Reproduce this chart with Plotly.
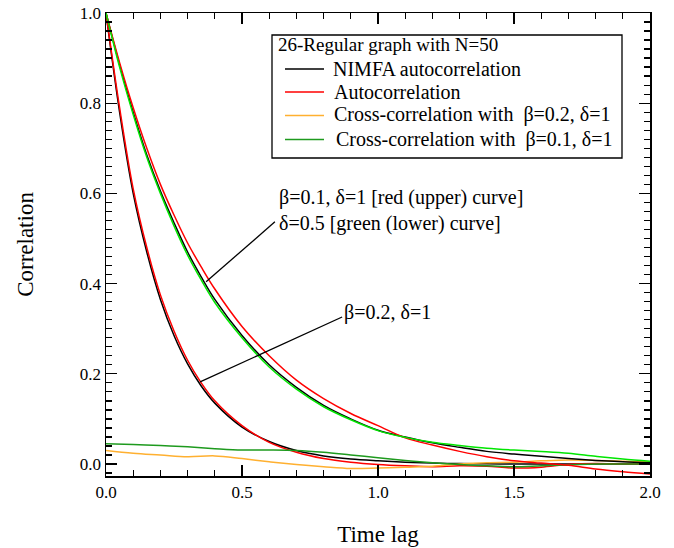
import plotly.graph_objects as go

# time grids
t_auto = [0, 0.05, 0.1, 0.15, 0.2, 0.25, 0.3, 0.35, 0.4, 0.5, 0.6, 0.7, 0.8, 0.9, 1.0,
          1.1, 1.2, 1.3, 1.4, 1.5, 1.6, 1.7, 1.8, 1.9, 2.0]
t_cross = [0, 0.1, 0.2, 0.3, 0.4, 0.5, 0.6, 0.7, 0.8, 0.9, 1.0,
           1.1, 1.2, 1.3, 1.4, 1.5, 1.6, 1.7, 1.8, 1.9, 2.0]

# beta=0.2, delta=1
nimfa_fast = [1.0, 0.78, 0.60, 0.47, 0.365, 0.285, 0.222, 0.173, 0.135, 0.082, 0.05, 0.030,
              0.018, 0.011, 0.007, 0.004, 0.002, 0.001, 0.0005, 0.0, 0.0, 0.0, 0.0, 0.0, 0.0]
auto_fast = [1.0, 0.79, 0.61, 0.48, 0.375, 0.295, 0.23, 0.18, 0.14, 0.085, 0.048, 0.026,
             0.012, 0.004, -0.001, -0.004, -0.006, -0.004, -0.005, -0.009, -0.007, -0.001,
             0.001, 0.0, 0.0]
# beta=0.1, delta=1 (red) / delta=0.5 (green)
nimfa_slow = [1.0, 0.885, 0.78, 0.685, 0.605, 0.535, 0.47, 0.415, 0.365, 0.285, 0.22, 0.17,
              0.13, 0.10, 0.075, 0.06, 0.047, 0.037, 0.028, 0.022, 0.017, 0.012, 0.008,
              0.005, 0.003]
auto_slow_green = [1.0, 0.88, 0.775, 0.68, 0.60, 0.528, 0.463, 0.408, 0.358, 0.28, 0.215,
                   0.166, 0.127, 0.098, 0.074, 0.059, 0.048, 0.041, 0.035, 0.031, 0.028,
                   0.024, 0.017, 0.011, 0.006]
auto_slow_red = [1.0, 0.89, 0.79, 0.70, 0.62, 0.552, 0.49, 0.437, 0.388, 0.305, 0.24, 0.186,
                 0.145, 0.112, 0.085, 0.058, 0.042, 0.028, 0.016, 0.007, 0.002, -0.003,
                 -0.011, -0.017, -0.022]
cross_b01 = [0.045, 0.043, 0.041, 0.038, 0.034, 0.031, 0.031, 0.030, 0.026, 0.020, 0.014,
             0.008, 0.003, -0.001, -0.004, -0.006, -0.004, -0.002, 0.0, 0.0, 0.0]
cross_b02 = [0.030, 0.024, 0.020, 0.016, 0.018, 0.012, 0.005, -0.001, -0.006, -0.010, -0.009,
             -0.007, -0.005, 0.0, 0.003, 0.004, 0.007, 0.009, 0.008, 0.006, 0.005]

legend_title = "26-Regular graph with N=50"
names = ["NIMFA autocorrelation", "Autocorrelation",
         "Cross-correlation with  β=0.2, δ=1", "Cross-correlation with  β=0.1, δ=1"]

FONT = "Liberation Serif"
BLACK, RED, ORANGE, DGREEN, LGREEN = "#000000", "#ff0000", "#ffb030", "#1e9a1e", "#00e600"
LW = 1.5
legend_colors = [BLACK, RED, ORANGE, DGREEN]

fig = go.Figure()
fig.add_trace(go.Scatter(x=t_auto, y=nimfa_fast, mode="lines", name=names[0],
                         line=dict(color=BLACK, width=LW, shape="spline")))
fig.add_trace(go.Scatter(x=t_auto, y=auto_fast, mode="lines", name=names[1],
                         line=dict(color=RED, width=LW, shape="spline")))
fig.add_trace(go.Scatter(x=t_cross, y=cross_b02, mode="lines", name=names[2],
                         line=dict(color=ORANGE, width=LW, shape="spline")))
fig.add_trace(go.Scatter(x=t_cross, y=cross_b01, mode="lines", name=names[3],
                         line=dict(color=DGREEN, width=LW, shape="spline")))
fig.add_trace(go.Scatter(x=t_auto, y=nimfa_slow, mode="lines", name=names[0],
                         line=dict(color=BLACK, width=LW, shape="spline")))
fig.add_trace(go.Scatter(x=t_auto, y=auto_slow_red, mode="lines", name=names[1],
                         line=dict(color=RED, width=LW, shape="spline")))
fig.add_trace(go.Scatter(x=t_auto, y=auto_slow_green, mode="lines", name="Autocorrelation (δ=0.5)",
                         line=dict(color=LGREEN, width=LW, shape="spline")))

# pointer lines
fig.add_shape(type="line", x0=0.368, y0=0.404, x1=0.621, y1=0.537,
              line=dict(color=BLACK, width=1.3))
fig.add_shape(type="line", x0=0.346, y0=0.182, x1=0.868, y1=0.326,
              line=dict(color=BLACK, width=1.3))

afont = dict(family=FONT, size=20, color=BLACK)
fig.add_annotation(x=0.627, y=0.592, text="β=0.1, δ=1 [red (upper) curve]", showarrow=False,
                   xanchor="left", yanchor="middle", font=afont)
fig.add_annotation(x=0.627, y=0.534, text="δ=0.5 [green (lower) curve]", showarrow=False,
                   xanchor="left", yanchor="middle", font=afont)
fig.add_annotation(x=0.866, y=0.335, text="β=0.2, δ=1", showarrow=False,
                   xanchor="left", yanchor="middle", font=afont)

# ---- legend box drawn in paper coordinates (plot area: x 106..650 px, y 13..476 px)
def px_x(p):
    return (p - 106) / 544.0

def px_y(p):
    return (476 - p) / 463.0

fig.add_shape(type="rect", xref="paper", yref="paper",
              x0=px_x(272), x1=px_x(622), y0=px_y(158), y1=px_y(35),
              line=dict(color=BLACK, width=1.3), fillcolor="white", layer="above")
fig.add_annotation(xref="paper", yref="paper", x=px_x(276), y=px_y(45),
                   text=legend_title, showarrow=False, xanchor="left", yanchor="middle",
                   font=dict(family=FONT, size=19, color=BLACK))
row_y = [68.5, 91.5, 115, 139]
text_x = [331, 332, 332, 334]
for name, col, ry, tx in zip(names, legend_colors, row_y, text_x):
    fig.add_shape(type="line", xref="paper", yref="paper",
                  x0=px_x(285), x1=px_x(324), y0=px_y(ry + 0.5), y1=px_y(ry + 0.5),
                  line=dict(color=col, width=LW), layer="above")
    fig.add_annotation(xref="paper", yref="paper", x=px_x(tx), y=px_y(ry),
                       text=name, showarrow=False, xanchor="left", yanchor="middle",
                       font=dict(family=FONT, size=20, color=BLACK))

axis_common = dict(showline=True, linecolor=BLACK, linewidth=1.5, mirror="ticks",
                   ticks="inside", ticklen=11, tickwidth=1.3, tickcolor=BLACK,
                   showgrid=False, zeroline=False, automargin=False,
                   ticklabeloverflow="allow",
                   tickfont=dict(family=FONT, size=17, color=BLACK))

fig.update_xaxes(range=[0, 2], dtick=0.5, tick0=0, tickformat=".1f",
                 minor=dict(ticks="inside", ticklen=6, dtick=0.1, tickwidth=1.3,
                            tickcolor=BLACK, showgrid=False),
                 title=dict(text="Time lag", font=dict(family=FONT, size=23, color=BLACK),
                            standoff=25),
                 **axis_common)
fig.update_yaxes(range=[-0.0266, 1.0], dtick=0.2, tick0=0, tickformat=".1f",
                 minor=dict(ticks="inside", ticklen=6, dtick=0.02, tickwidth=1.3,
                            tickcolor=BLACK, showgrid=False),
                 title=dict(text="Correlation", font=dict(family=FONT, size=23, color=BLACK),
                            standoff=40),
                 **axis_common)

fig.update_layout(
    width=674, height=548,
    margin=dict(l=106, r=24, t=13, b=72, autoexpand=False),
    paper_bgcolor="white", plot_bgcolor="white",
    font=dict(family=FONT, size=17, color=BLACK),
    showlegend=False,
    hovermode=False,
)

# remove the default 8px page margin so the figure fills the window exactly
fig.write_html("out.html",
               config={"displayModeBar": False, "staticPlot": True},
               post_script="document.body.style.margin='0';document.body.style.overflow='hidden';")
